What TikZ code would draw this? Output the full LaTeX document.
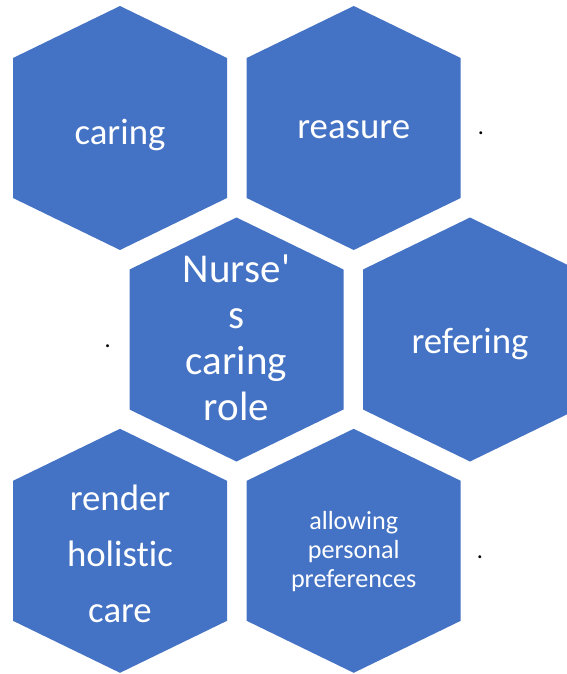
\documentclass[tikz,border=0pt]{standalone}
\usepackage{fontspec}
\setmainfont[Ligatures=NoCommon]{Carlito}
\usepackage{xcolor}
\usepackage{tikz}
\usetikzlibrary{positioning}
\definecolor{HexBlue}{HTML}{4472C4}
\tikzset{
  hextext/.style={text=white, align=center, inner sep=0pt},
  bigtext/.style={font=\fontsize{27.6}{42}\selectfont},
  stray/.style={font=\fontsize{18}{20}\selectfont, inner sep=0pt}
}

\begin{document}
\begin{tikzpicture}[x=0.75pt, y=-0.75pt]
    % canvas (pixel units, y pointing down)
    \useasboundingbox (0,0) rectangle (567,674);
    \clip (0,0) rectangle (567,674);

    % Honeycomb of pointy-top hexagons
    \foreach \cx/\cy in {120/128, 353.7/128, 236.5/339.5,
                         470/339.5, 120/550.8, 353.7/550.8}{
      \fill[HexBlue] (\cx,\cy) ++(0,-122) -- ++(107,52) -- ++(0,140)
        -- ++(-107,52) -- ++(-107,-52) -- ++(0,-140) -- cycle;
    }

    % Labels (multi-line ones sit on their last baseline)
    \node[hextext, bigtext, anchor=base] (caring) at (120,144) {caring};
    \node[hextext, bigtext, anchor=base] (reasure) at (353.7,138) {reasure};
    \node[hextext, anchor=base,
          font=\fontsize{30.75}{34.5}\selectfont] (nurse) at (236.5,420)
      {Nurse\textquotesingle\\s\\caring\\role};
    \node[hextext, bigtext, anchor=base] (refering) at (470,353) {refering};
    \node[hextext, bigtext, anchor=base] (holistic) at (120,622)
      {render\\holistic\\care};
    \node[hextext, anchor=base,
          font=\fontsize{19.6}{21.4}\selectfont] (preferences) at (353.7,587)
      {allowing\\personal\\preferences};

    % Stray full stops
    \node[stray] (dotA) at (481,133.5) {.};
    \node[stray] (dotB) at (107.7,346) {.};
    \node[stray] (dotC) at (480,557) {.};
  \end{tikzpicture}
\end{document}
